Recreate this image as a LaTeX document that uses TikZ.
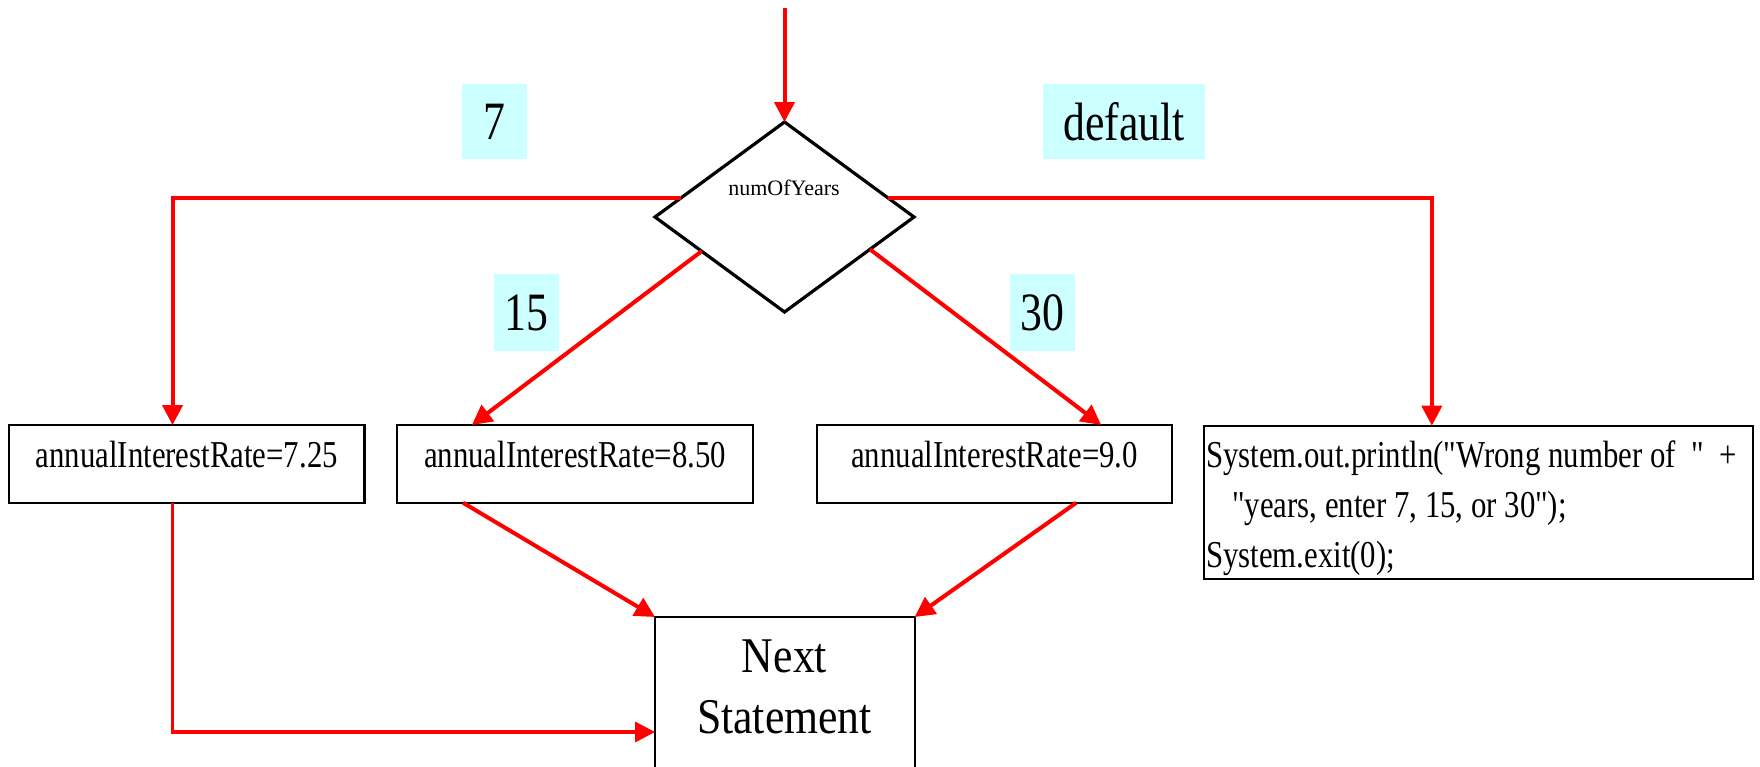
\documentclass[tikz,border=0pt]{standalone}
\usepackage{fontspec}
\setmainfont{Liberation Serif}
\newfontfamily\boxfont[FakeStretch=0.81,Ligatures=TeXOff]{Liberation Serif}
\newfontfamily\nextfont[FakeStretch=0.875]{Liberation Serif}
\usetikzlibrary{shapes.geometric,arrows.meta,calc}

\definecolor{flowred}{RGB}{255,0,0}
\definecolor{casecyan}{RGB}{204,255,255}

\begin{document}
\begin{tikzpicture}[x=1pt,y=-1pt,
  flow/.style={draw=flowred,line width=4pt},
  flowarrow/.style={flow,-{Triangle[length=20pt,width=20pt]}},
  stmt/.style={draw=black,line width=2.4pt,rectangle,inner sep=0pt,outer sep=0pt},
  ratebox/.style={stmt,minimum width=355.5pt,text height=42pt,text depth=35.7pt,
    font=\boxfont\fontsize{38}{40}\selectfont},
  caselabel/.style={fill=casecyan,inner sep=0pt,font=\boxfont\fontsize{54}{56}\selectfont},
  codeline/.style={anchor=base west,inner sep=0pt,font=\boxfont\fontsize{38}{40}\selectfont},
  nexttext/.style={anchor=base,inner sep=0pt,font=\nextfont\fontsize{50}{52}\selectfont},
]
% canvas
\fill[white] (0,0) rectangle (1760,766);
\clip (0,0) rectangle (1760,766);

% case labels
\node[caselabel,minimum width=65pt,minimum height=75pt] (l7) at (494.5,121.5) {7};
\node[caselabel,minimum width=162pt,minimum height=75pt] (ldef) at (1124,121.5) {default};
\node[caselabel,minimum width=65pt,minimum height=77pt] (l15) at (526.5,312.5) {15};
\node[caselabel,minimum width=65pt,minimum height=77pt] (l30) at (1042.5,312.5) {30};

% switch decision
\node[diamond,draw,line width=3.2pt,minimum width=259pt,minimum height=190pt,
      inner sep=0pt,outer sep=0pt] (d) at (784.5,217) {};
\node[anchor=base,inner sep=0pt,font=\fontsize{22}{24}\selectfont] (dlabel) at (784,195) {numOfYears};

% case statements
\node[ratebox] (b1) at (186.75,463.85) {annualInterestRate=7.25};
\node[ratebox] (b2) at (575,463.85) {annualInterestRate=8.50};
\node[ratebox] (b3) at (994.5,463.85) {annualInterestRate=9.0};
\node[stmt,minimum width=549pt,minimum height=153pt] (b4) at (1478.5,502.2) {};
\node[codeline] (c1) at (1206,467) {System.out.println("Wrong number of\ \ "\ \ +};
\node[codeline] (c2) at (1232,517) {"years, enter 7, 15, or 30");};
\node[codeline] (c3) at (1206,567) {System.exit(0);};

% following statement
\node[stmt,minimum width=259.7pt,minimum height=200pt,anchor=north west] (nx) at (655,617) {};
\node[nexttext] (nx1) at (784.5,672) {Next};
\node[nexttext] (nx2) at (784.5,733) {Statement};

% flow
\coordinate (start) at (784.5,8);
\draw[flowarrow] (start) -- (d.north);
\draw[flowarrow] ($(d.west)!0.2!(d.north)$) -| ($(b1.north west)!0.46!(b1.north east)$);
\draw[flowarrow] ($(d.east)!0.2!(d.north)$) -| ($(b4.north west)!0.415!(b4.north east)$);
\draw[flowarrow] ($(d.west)!0.36!(d.south)$) -- ($(b2.north west)!0.21!(b2.north east)$);
\draw[flowarrow] ($(d.east)!0.34!(d.south)$) -- ($(b3.north west)!0.8!(b3.north east)$);
\draw[flowarrow] ($(b2.south west)!0.185!(b2.south east)$) -- (nx.north west);
\draw[flowarrow] ($(b3.south west)!0.73!(b3.south east)$) -- (nx.north east);
\draw[flowarrow,line width=3.4pt] ($(b1.south west)!0.46!(b1.south east)$) |- ($(nx.north west)+(0,115)$);
\end{tikzpicture}
\end{document}
